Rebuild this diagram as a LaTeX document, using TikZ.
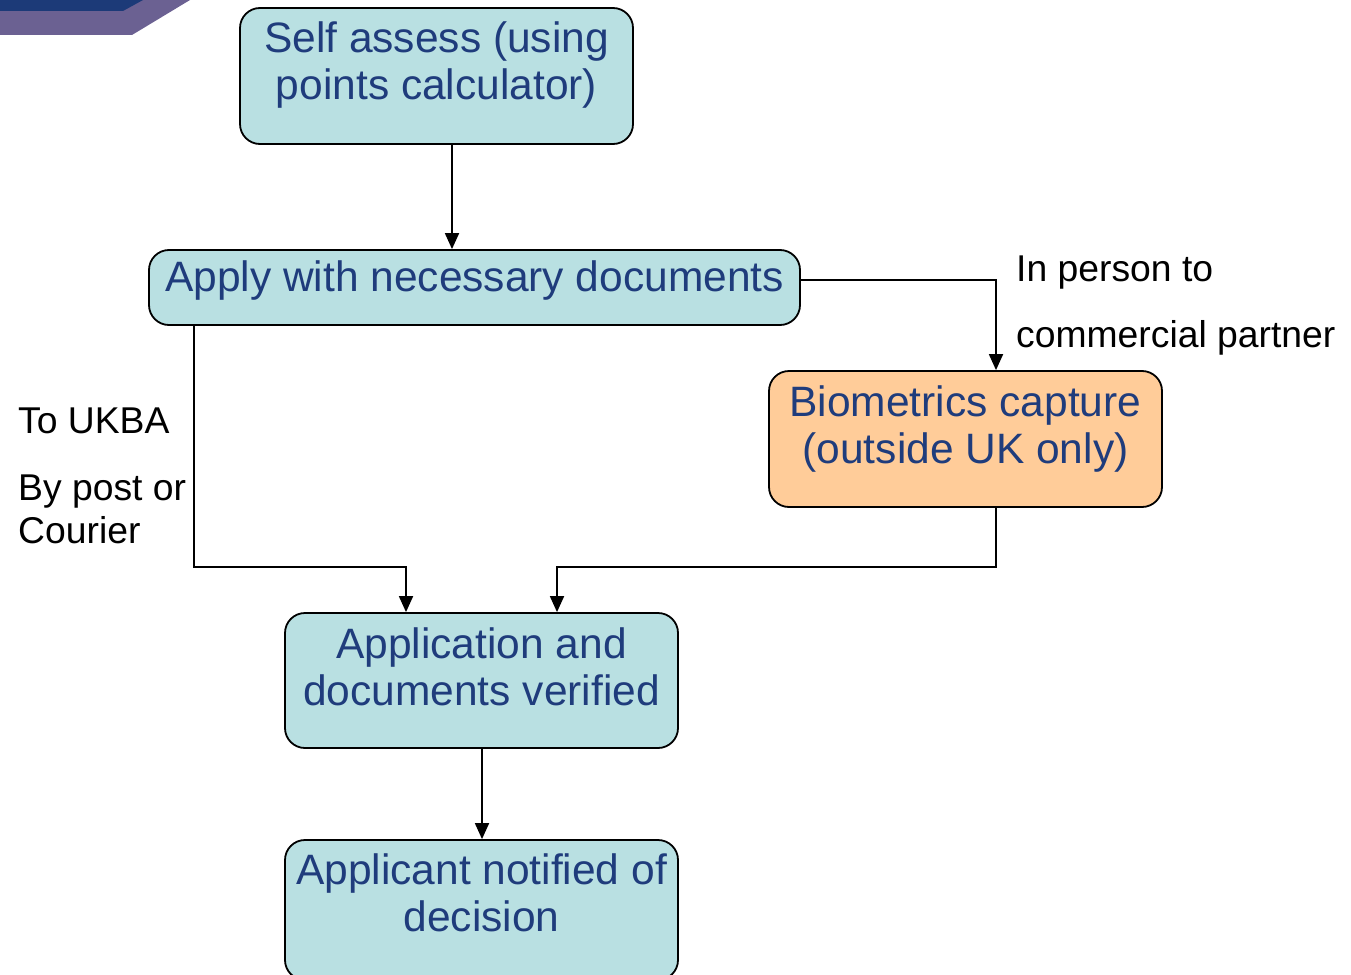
\documentclass[tikz,border=0pt]{standalone}
\usepackage{fontspec}
\setmainfont{Liberation Sans}
\usetikzlibrary{arrows.meta}
\definecolor{boxfill}{HTML}{B9E0E2}
\definecolor{orangefill}{HTML}{FFCC99}
\definecolor{boxtext}{HTML}{1F3C7C}
\definecolor{bandblue}{HTML}{1C3A78}
\definecolor{bandpurple}{HTML}{6B6192}
\tikzset{
  boxshape/.style={draw=black, line width=1.8pt, rounded corners=20pt, fill=boxfill, inner sep=0pt},
  boxlabel/.style={text=boxtext, align=center, font=\fontsize{42.5}{47}\selectfont, inner sep=0pt},
  sidelabel/.style={text=black, font=\fontsize{37.3}{44}\selectfont, inner sep=0pt, anchor=base west},
  conn/.style={draw=black, line width=1.8pt, -{Triangle[length=16pt,width=14pt]}}
}
\begin{document}
\begin{tikzpicture}[x=1pt,y=-1pt]
\useasboundingbox (0,0) rectangle (1351,974);
% corner decoration
\fill[bandpurple] (0,0) -- (190,0) -- (132,35) -- (0,35) -- cycle;
\fill[bandblue] (0,0) -- (143,0) -- (123,11) -- (0,11) -- cycle;
% boxes
\node[boxshape, minimum width=393pt, minimum height=136pt] (self) at (436.5,76) {};
\node[boxlabel] (selft) at (436.5,65) {Self assess (using\\points calculator)};
\node[boxshape, minimum width=651pt, minimum height=75pt] (apply) at (474.5,287.5) {};
\node[boxlabel] (applyt) at (474.5,281) {Apply with necessary documents};
\node[boxshape, fill=orangefill, minimum width=393pt, minimum height=136pt] (bio) at (965.5,439) {};
\node[boxlabel] (biot) at (965.5,429) {Biometrics capture\\(outside UK only)};
\node[boxshape, minimum width=393pt, minimum height=135pt] (ver) at (481.5,680.5) {};
\node[boxlabel] (vert) at (481.5,667) {Application and\\documents verified};
\node[boxshape, minimum width=393pt, minimum height=140pt] (notif) at (481.5,910) {};
\node[boxlabel] (notift) at (481.5,893) {Applicant notified of\\decision};
% side labels
\node[sidelabel] (l1) at (1016,281) {In person to};
\node[sidelabel] (l2) at (1016,347) {commercial partner};
\node[sidelabel] (l3) at (18,433) {To UKBA};
\node[sidelabel] (l4) at (18,500) {By post or};
\node[sidelabel] (l5) at (18,543) {Courier};
% connectors
\coordinate (c1) at (996,280);
\coordinate (c2) at (194,567);
\coordinate (c3) at (406,567);
\coordinate (c4) at (996,567);
\coordinate (c5) at (557,567);
\draw[conn] (self.south -| 452,0) -- (apply.north -| 452,0);
\draw[conn] (apply.east |- c1) -- (c1) -- (bio.north -| c1);
\draw[conn] (apply.south -| c2) -- (c2) -- (c3) -- (ver.north -| c3);
\draw[conn] (bio.south -| c4) -- (c4) -- (c5) -- (ver.north -| c5);
\draw[conn] (ver.south -| 482,0) -- (notif.north -| 482,0);
\end{tikzpicture}
\end{document}
